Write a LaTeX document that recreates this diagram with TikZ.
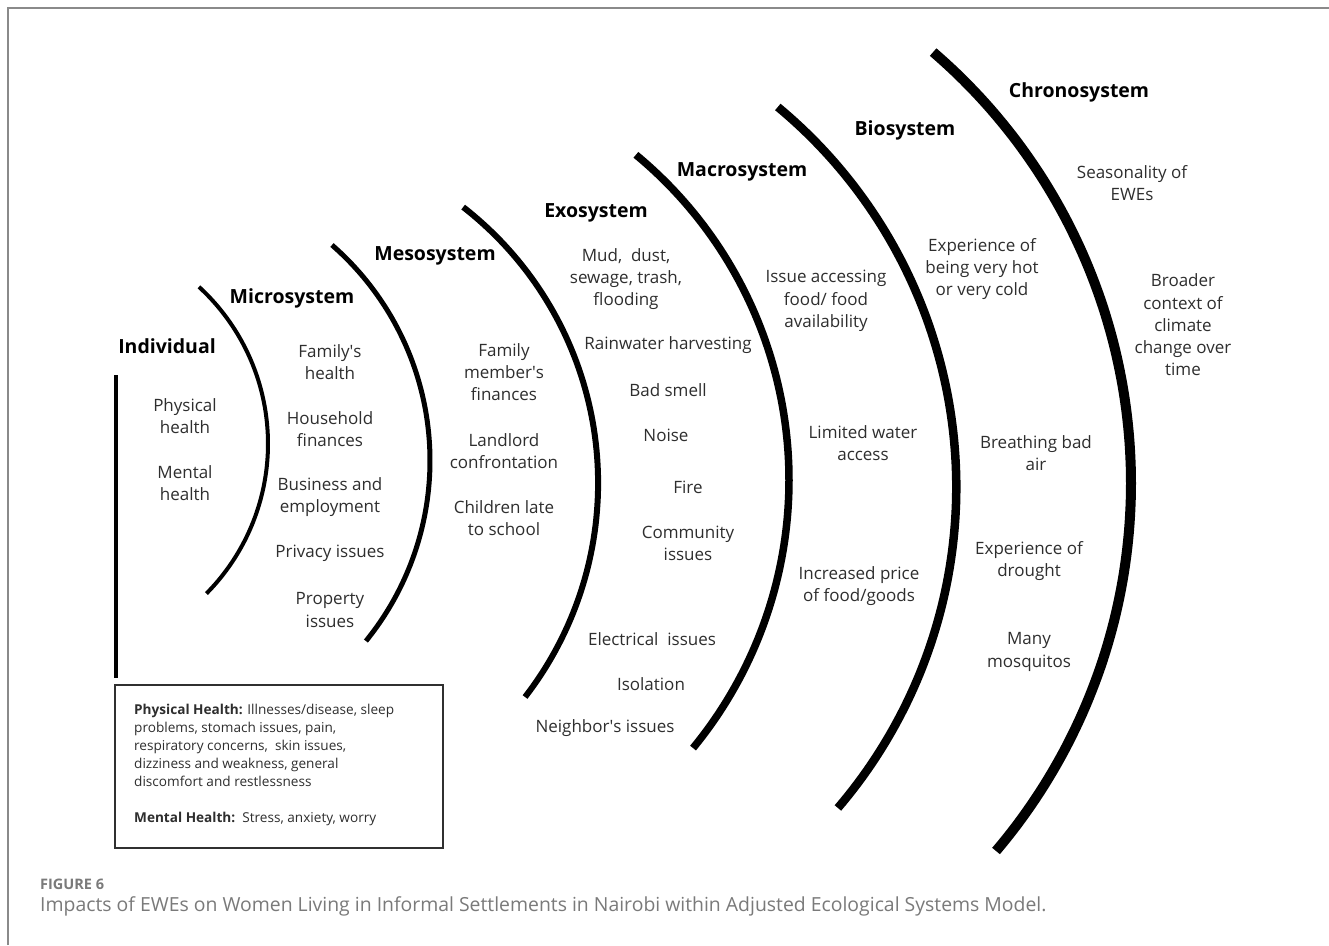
\documentclass[tikz,border=0pt]{standalone}
\usepackage{fontspec}
\setmainfont{Open Sans}
\definecolor{txt}{HTML}{2E2E2E}
\definecolor{framec}{HTML}{8A8A8A}
\definecolor{capgray}{HTML}{7A7A7A}
\definecolor{boxc}{HTML}{303030}
\newcommand\apo{\textquotesingle}
\begin{document}
\begin{tikzpicture}[x=1pt,y=-1pt,
  lbl/.style={align=center, font=\fontsize{17}{22.3}\selectfont, text=txt, inner sep=0pt},
  ttl/.style={font=\fontsize{19.5}{22}\selectfont\bfseries, text=black, inner sep=0pt},
  ring/.style={line width=#1, line cap=butt}]
\useasboundingbox[fill=white] (0,0) rectangle (1329,945);
% frame
\draw[framec, line width=2pt] (8,945) -- (8,8) -- (1329,8);
% rings
\draw[ring=4pt] plot[domain=-47.5:44.7, samples=80] ({55.1+212.9*cos(\x)},{443.8+212.9*sin(\x)});
\draw[ring=5pt] plot[domain=-48.9:39.1, samples=80] ({143.9+286.1*cos(\x)},{460.6+286.1*sin(\x)});
\draw[ring=6pt] plot[domain=-52.1:37.7, samples=80] ({248.3+349.8*cos(\x)},{483.1+349.8*sin(\x)});
\draw[ring=7.5pt] plot[domain=-50.4:39.4, samples=90] ({366.8+422.2*cos(\x)},{480.1+422.2*sin(\x)});
\draw[ring=8.5pt] plot[domain=-50.3:40.5, samples=100] ({462.2+494.1*cos(\x)},{487.1+494.1*sin(\x)});
\draw[ring=10pt] plot[domain=-49.3:40.3, samples=110] ({562.3+568.7*cos(\x)},{483.2+568.7*sin(\x)});
% individual bar
\draw[line width=4pt] (116,375) -- (116,678);
% titles
\node[ttl] (tind) at (167,346) {Individual};
\node[ttl] (tmic) at (292,298) {Microsystem};
\node[ttl] (tmes) at (435,256) {Mesosystem};
\node[ttl] (texo) at (596,213) {Exosystem};
\node[ttl] (tmac) at (742,172) {Macrosystem};
\node[ttl] (tbio) at (905,130) {Biosystem};
\node[ttl] (tchr) at (1079,92) {Chronosystem};
% individual
\node[lbl] (i1) at (185,416) {Physical\\health};
\node[lbl] (i2) at (185,483) {Mental\\health};
% micro
\node[lbl] (m1) at (330,362) {Family\apo s\\health};
\node[lbl] (m2) at (330,429) {Household\\finances};
\node[lbl] (m3) at (330,497) {Business and\\employment};
\node[lbl] (m4) at (330,553) {Privacy issues};
\node[lbl] (m5) at (330,610) {Property\\issues};
% meso
\node[lbl] (s1) at (504,372) {Family\\member\apo s\\finances};
\node[lbl] (s2) at (504,451) {Landlord\\confrontation};
\node[lbl] (s3) at (504,518) {Children late\\to school};
% exo
\node[lbl] (e1) at (626,279) {Mud,\ \ dust,\\sewage, trash,\\flooding};
\node[lbl] (e2) at (668,345) {Rainwater harvesting};
\node[lbl] (e3) at (668,390) {Bad smell};
\node[lbl] (e4) at (666,435) {Noise};
\node[lbl] (e5) at (688,487) {Fire};
\node[lbl] (e6) at (688,543) {Community\\issues};
\node[lbl] (e7) at (652,639) {Electrical\ \ issues};
\node[lbl] (e8) at (651,684) {Isolation};
\node[lbl] (e9) at (605,728) {Neighbor\apo s issues};
% macro
\node[lbl] (a1) at (826,301) {Issue accessing\\food/ food\\availability};
\node[lbl] (a2) at (863,443) {Limited water\\access};
\node[lbl] (a3) at (859,586) {Increased price\\of food/goods};
% bio
\node[lbl] (b1) at (982,269) {Experience of\\being very hot\\or very cold};
\node[lbl] (b2) at (1036,453) {Breathing bad\\air};
\node[lbl] (b3) at (1029,561) {Experience of\\drought};
\node[lbl] (b4) at (1029,652) {Many\\mosquitos};
% chrono
\node[lbl] (c1) at (1132,183) {Seasonality of\\EWEs};
\node[lbl] (c2) at (1183,325) {Broader\\context of\\climate\\change over\\time};
% legend box
\node[draw=boxc, line width=2pt, minimum width=328pt, minimum height=163pt, inner sep=0pt] (legend) at (279,766.5) {};
\node[anchor=north west, align=left, inner sep=0pt, text=txt, font=\fontsize{13.6}{18}\selectfont] (legtext) at (134,703.5)
 {\textbf{Physical Health:} Illnesses/disease, sleep\\
  problems, stomach issues, pain,\\
  respiratory concerns,\ \ skin issues,\\
  dizziness and weakness, general\\
  discomfort and restlessness\\[18pt]
  \textbf{Mental Health:}\ \ Stress, anxiety, worry};
% caption
\node[anchor=west, inner sep=0pt, text=capgray, font=\fontsize{14.5}{16}\selectfont\bfseries] (fig) at (40,884) {FIGURE 6};
\node[anchor=west, inner sep=0pt, text=capgray, font=\fontsize{19.4}{22}\selectfont] (cap) at (40,906) {Impacts of EWEs on Women Living in Informal Settlements in Nairobi within Adjusted Ecological Systems Model.};
\end{tikzpicture}
\end{document}
